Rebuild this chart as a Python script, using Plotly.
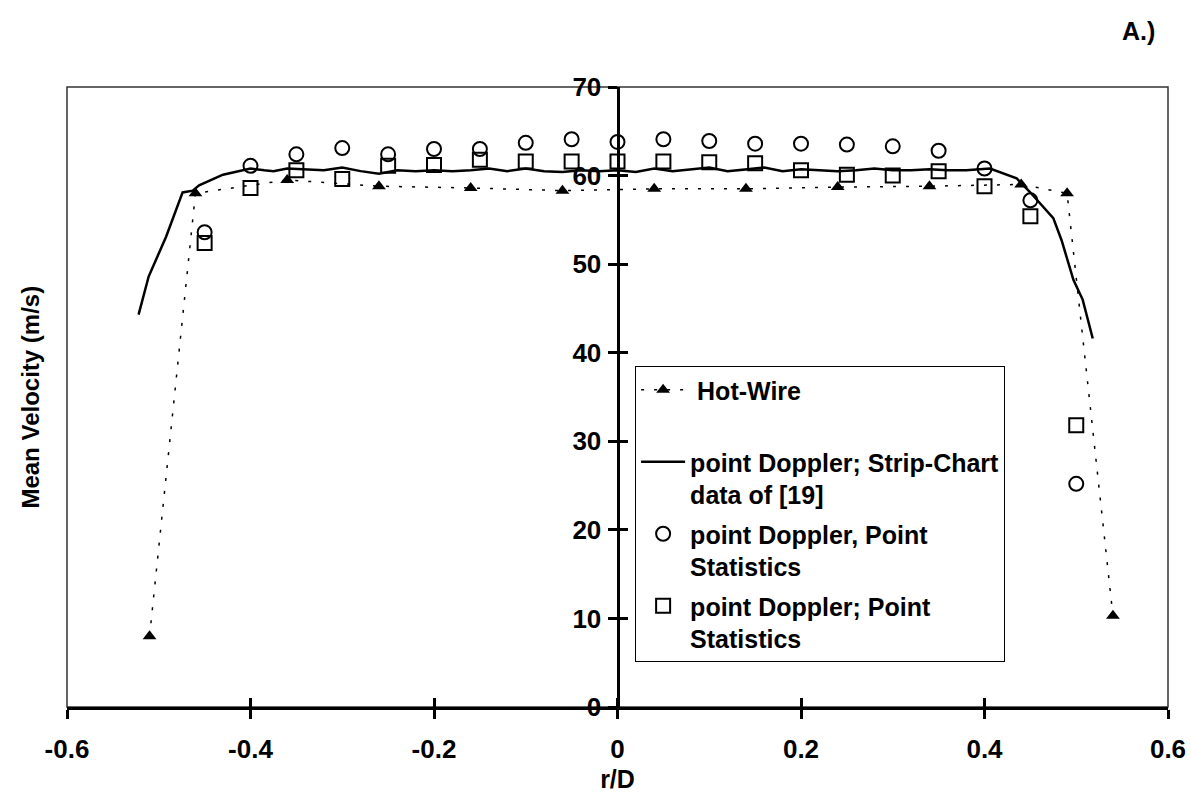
import plotly.graph_objects as go

# Hot-wire traverse
r_hot = [-0.51, -0.46, -0.36, -0.26, -0.16, -0.06, 0.04, 0.14, 0.24, 0.34, 0.44, 0.49, 0.54]
v_hot = [8.0, 58.0, 59.5, 58.8, 58.6, 58.3, 58.5, 58.5, 58.7, 58.8, 59.0, 58.0, 10.3]

# Strip-chart trace of the point Doppler system, ref. [19]
r_strip = [-0.522, -0.511, -0.492, -0.474, -0.463, -0.456, -0.43, -0.409, -0.40, -0.385,
           -0.375, -0.36, -0.34, -0.32, -0.30, -0.28, -0.26, -0.24, -0.22, -0.20,
           -0.18, -0.16, -0.14, -0.12, -0.10, -0.08, -0.06, -0.04, -0.02, 0.0,
           0.02, 0.04, 0.06, 0.08, 0.10, 0.12, 0.14, 0.16, 0.18, 0.20,
           0.22, 0.24, 0.26, 0.28, 0.30, 0.32, 0.34, 0.36, 0.38, 0.40,
           0.406, 0.435, 0.449, 0.475, 0.484, 0.497, 0.507, 0.518]
v_strip = [44.3, 48.6, 53.1, 58.1, 58.3, 58.9, 60.1, 60.6, 60.8, 60.6,
           60.5, 60.8, 60.7, 60.6, 60.9, 60.5, 60.2, 60.6, 60.5, 60.6,
           60.5, 60.6, 60.8, 60.5, 60.8, 60.5, 60.4, 60.6, 60.5, 60.6,
           60.4, 60.8, 60.5, 60.7, 60.9, 60.5, 60.7, 60.9, 60.5, 60.7,
           60.6, 60.5, 60.6, 60.8, 60.6, 60.6, 60.7, 60.6, 60.6, 60.7,
           60.8, 59.7, 58.2, 55.2, 52.7, 48.2, 46.0, 41.6]

# Point statistics, two processing variants
r_pts = [-0.45, -0.40, -0.35, -0.30, -0.25, -0.20, -0.15, -0.10, -0.05, 0.00,
         0.05, 0.10, 0.15, 0.20, 0.25, 0.30, 0.35, 0.40, 0.45, 0.50]
v_circ = [53.6, 61.1, 62.4, 63.1, 62.4, 63.0, 63.0, 63.7, 64.1, 63.8,
          64.1, 63.9, 63.6, 63.6, 63.5, 63.3, 62.8, 60.8, 57.2, 25.2]
v_sq = [52.4, 58.6, 60.6, 59.6, 61.1, 61.2, 61.8, 61.6, 61.6, 61.6,
        61.6, 61.5, 61.4, 60.6, 60.1, 60.0, 60.5, 58.8, 55.4, 31.8]

x_ticks = [-0.6, -0.4, -0.2, 0, 0.2, 0.4, 0.6]
x_ticktext = ["-0.6", "-0.4", "-0.2", "0", "0.2", "0.4", "0.6"]
y_ticks = [0, 10, 20, 30, 40, 50, 60, 70]

FONT = "Liberation Sans, Arial, Helvetica, sans-serif"

fig = go.Figure()

fig.add_trace(go.Scatter(
    x=r_hot, y=v_hot, mode="lines+markers", name="\u00a0Hot-Wire<br>\u00a0",
    legendgroup="a",
    line=dict(color="black", width=1.5, dash="3px,10px"),
    marker=dict(symbol="triangle-up", size=12, color="black"),
))
fig.add_trace(go.Scatter(
    x=r_strip, y=v_strip, mode="lines", legendgroup="b",
    name="point Doppler; Strip-Chart<br>data of [19]",
    line=dict(color="black", width=2.5),
))
fig.add_trace(go.Scatter(
    x=r_pts, y=v_circ, mode="markers", legendgroup="c",
    name="point Doppler, Point<br>Statistics",
    marker=dict(symbol="circle-open", size=14, color="black", line=dict(width=2)),
))
fig.add_trace(go.Scatter(
    x=r_pts, y=v_sq, mode="markers", legendgroup="d",
    name="point Doppler; Point<br>Statistics",
    marker=dict(symbol="square-open", size=14, color="black", line=dict(width=2)),
))
# companion axes that carry the inner half of the crossing tick marks
fig.add_trace(go.Scatter(x=[None], y=[None], xaxis="x2", yaxis="y2",
                         showlegend=False, hoverinfo="skip"))

tickfont = dict(family=FONT, size=26, color="black", weight="bold")
textfont = dict(family=FONT, size=25, color="black", weight="bold")

fig.update_layout(
    width=1191, height=798,
    margin=dict(l=67, r=23, t=87, b=91),
    paper_bgcolor="white", plot_bgcolor="white",
    showlegend=True,
    xaxis=dict(
        range=[-0.6, 0.6], tickvals=x_ticks, ticktext=x_ticktext,
        showline=True, linewidth=3, linecolor="black",
        ticks="outside", ticklen=9, tickwidth=3, tickcolor="black",
        showgrid=False, zeroline=False, tickfont=tickfont,
        ticklabelstandoff=8, automargin=False,
        title=dict(text="r/D", font=textfont, standoff=8),
    ),
    xaxis2=dict(
        range=[-0.6, 0.6], tickvals=x_ticks, overlaying="x", anchor="y",
        side="bottom", ticks="inside", ticklen=9, tickwidth=3, tickcolor="black",
        showticklabels=False, showline=False, showgrid=False, zeroline=False,
        automargin=False,
    ),
    yaxis=dict(
        range=[0, 70], tickvals=y_ticks, anchor="free", position=0.5,
        showline=True, linewidth=3, linecolor="black",
        ticks="outside", ticklen=9, tickwidth=3, tickcolor="black",
        showgrid=False, zeroline=False, tickfont=tickfont,
        ticklabelstandoff=1, automargin=False,
    ),
    yaxis2=dict(
        range=[0, 70], tickvals=y_ticks, overlaying="y", anchor="free", position=0.5,
        side="left", ticks="inside", ticklen=9, tickwidth=3, tickcolor="black",
        showticklabels=False, showline=False, showgrid=False, zeroline=False,
        automargin=False,
    ),
    legend=dict(
        x=0.516, y=0.55, xanchor="left", yanchor="top",
        bgcolor="white", bordercolor="black", borderwidth=1,
        font=textfont,
        tracegroupgap=4, valign="top", itemwidth=44, traceorder="grouped",
    ),
    shapes=[dict(type="rect", xref="x domain", yref="y domain",
                 x0=0, x1=1, y0=0, y1=1, layer="below",
                 line=dict(color="#333333", width=1.5))],
    annotations=[
        dict(text="Mean Velocity (m/s)", textangle=-90, xref="paper", yref="paper",
             x=-0.034, y=0.5, xanchor="center", yanchor="middle", showarrow=False,
             font=dict(family=FONT, size=24, color="black", weight="bold")),
        dict(text="A.)", xref="paper", yref="paper", x=0.99, y=1.09,
             xanchor="right", yanchor="middle", showarrow=False, font=textfont),
    ],
)

fig.write_html("out.html")
